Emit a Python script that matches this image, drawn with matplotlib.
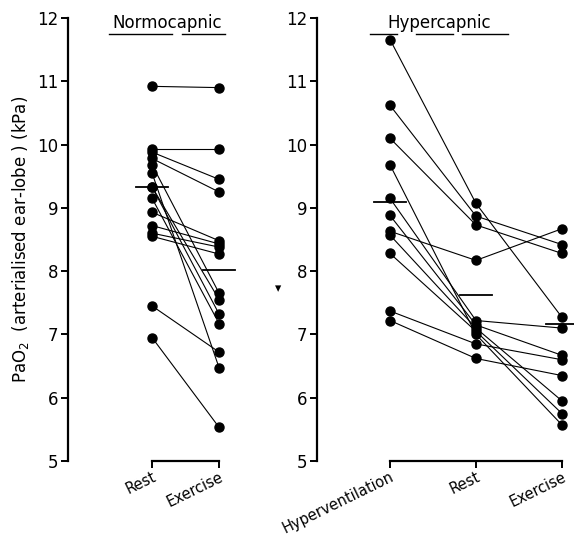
import numpy as np
import matplotlib.pyplot as plt

# Normocapnic patients: PaO2 (kPa) at rest and on exercise (paired)
normo_groups = ['Rest', 'Exercise']
normo_rest = [10.92, 9.93, 9.88, 9.78, 9.68, 9.55, 9.33, 9.33, 9.15, 8.93, 8.72, 8.60, 8.55, 7.45, 6.95]
normo_exercise = [10.90, 9.93, 9.45, 9.25, 7.65, 6.47, 7.55, 7.32, 7.17, 8.48, 8.43, 8.38, 8.27, 6.72, 5.53]
normo_means = [9.33, 8.02]

# Hypercapnic patients: hyperventilation, rest, exercise (paired)
hyper_groups = ['Hyperventilation', 'Rest', 'Exercise']
hyper_hv = [11.66, 10.62, 10.10, 9.68, 9.15, 8.88, 8.63, 8.57, 8.28, 7.37, 7.22]
hyper_rest = [9.07, 8.87, 8.73, 7.00, 7.22, 7.15, 8.17, 7.10, 7.05, 6.85, 6.62]
hyper_exercise = [7.27, 8.42, 8.28, 5.57, 7.10, 6.67, 8.67, 5.95, 5.75, 6.60, 6.35]
hyper_means = [9.10, 7.62, 7.17]

W, H = 574, 535
fig = plt.figure(figsize=(W / 100, H / 100), dpi=100)


def px_axes(x0, x1, y_top, y_bot):
    return fig.add_axes([x0 / W, 1 - y_bot / H, (x1 - x0) / W, (y_bot - y_top) / H])


def style(ax, groups, xlim):
    ax.set_xlim(xlim)
    ax.set_ylim(5, 12)
    for s in ['top', 'right']:
        ax.spines[s].set_visible(False)
    ax.spines['left'].set_bounds(5, 12)
    ax.spines['bottom'].set_bounds(0, len(groups) - 1)
    ax.spines['left'].set_linewidth(1.6)
    ax.spines['bottom'].set_linewidth(1.6)
    ax.set_xticks(range(len(groups)))
    ax.set_xticklabels(groups, rotation=26, ha='right', rotation_mode='anchor', fontsize=10.5)
    ax.tick_params(axis='x', direction='out', length=5, width=1.4, pad=1)
    ax.set_yticks(range(5, 13))
    ax.tick_params(axis='y', direction='out', length=5, width=1.4, labelsize=12, pad=2)


def paired(ax, cols, means, half):
    cols = np.array(cols)
    x = np.arange(cols.shape[0])
    for j in range(cols.shape[1]):
        ax.plot(x, cols[:, j], color='black', lw=0.8, marker='o', ms=6.5, clip_on=False, zorder=3)
    for i, m in enumerate(means):
        ax.plot([i - half, i + half], [m, m], color='black', lw=1.3, clip_on=False, zorder=4)


def title(ax, text, xc, tw, ext, gaps):
    # underlined title; the underline breaks under letters with descenders
    ax.text(xc, 11.84, text, ha='center', va='baseline', fontsize=12)
    n = len(text)
    step = 2 * tw / n
    cuts = [xc - tw - ext]
    for i in gaps:
        left = xc - tw + step * i
        cuts += [left, left + step]
    cuts.append(xc + tw + ext)
    for a, b in zip(cuts[::2], cuts[1::2]):
        if b > a:
            ax.plot([a, b], [11.75, 11.75], color='black', lw=1.0, clip_on=False)


# left panel: axis at x=68 px, Rest at 152 px, Exercise at 219 px
ax1 = px_axes(68, 250, 18, 461)
style(ax1, normo_groups, (-1.254, 1.46))
paired(ax1, [normo_rest, normo_exercise], normo_means, half=0.24)
title(ax1, 'Normocapnic', 0.22, 0.81, 0.05, [6])
ax1.set_ylabel('PaO$_2$  (arterialised ear-lobe ) (kPa)', fontsize=12, labelpad=4)

# right panel: axis at x=317 px, categories 86 px apart starting at 390 px
ax2 = px_axes(317, 574, 18, 461)
style(ax2, hyper_groups, (-0.849, 2.14))
paired(ax2, [hyper_hv, hyper_rest, hyper_exercise], hyper_means, half=0.19)
title(ax2, 'Hypercapnic', 0.57, 0.6, 0.2, [1, 2, 7])

fig.text(278 / W, 1 - 289 / H, '\u25be', fontsize=9, ha='center', va='center')

fig.savefig('out.png', dpi=100)
